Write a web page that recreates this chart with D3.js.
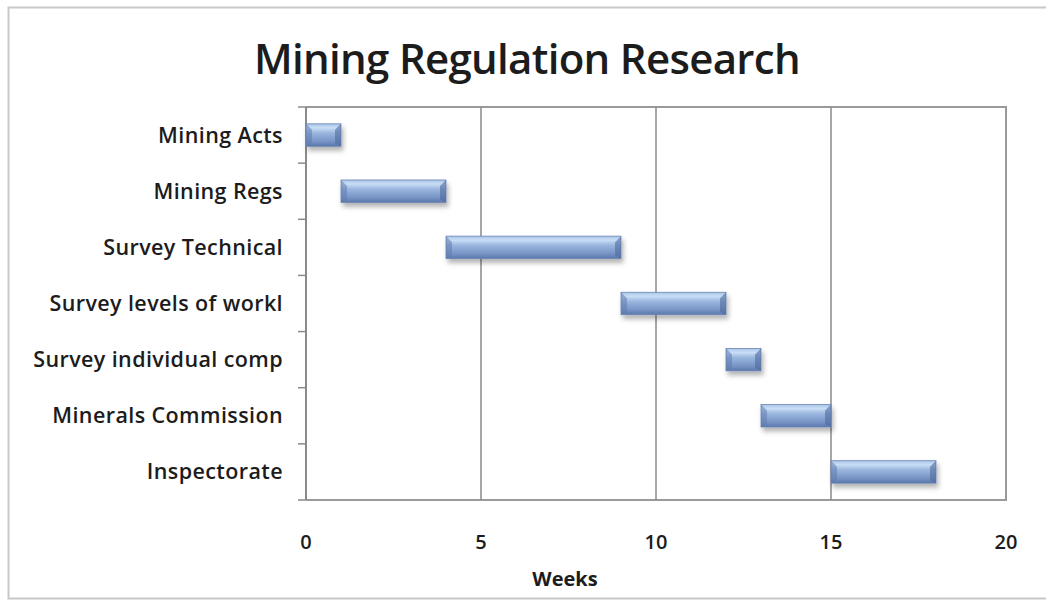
<!DOCTYPE html>
<html lang="en">
<head>
    <meta charset="UTF-8">
    <title>Mining Regulation Research</title>
    <script src="https://d3js.org/d3.v7.min.js"></script>
    <style>
        body{ margin:0; background:#fff; }
        svg text{ font-family: "Open Sans", Lato, sans-serif; fill:#1c1c1c; }
    </style>
</head>
<body>
<svg id="canvas" width="1046" height="601"></svg>
<script>
    // chart data
    const tasks = ["Mining Acts", "Mining Regs", "Survey Technical", "Survey levels of workl",
                   "Survey individual comp", "Minerals Commission", "Inspectorate"];
    const startWeek = [0, 1, 4, 9, 12, 13, 15];
    const duration  = [1, 3, 5, 3, 1, 2, 3];
    const xTicks = [0, 5, 10, 15, 20];

    const svg = d3.select("#canvas");

    // outer chart frame
    svg.append("rect")
        .attr("x", 8.5).attr("y", 7.5).attr("width", 1040).attr("height", 591)
        .attr("fill", "#fff").attr("stroke", "#c8c8c8").attr("stroke-width", 2);

    const plotL = 306, plotR = 1006, plotT = 107, plotB = 500;

    const x = d3.scaleLinear().domain([0, 20]).range([plotL, plotR]);
    const y = d3.scaleBand().domain(tasks).range([plotT, plotB]).paddingInner(0.6).paddingOuter(0.3);

    // gradients / shadow for the bevelled bars
    const defs = svg.append("defs");
    const vg = defs.append("linearGradient").attr("id", "barV")
        .attr("x1", 0).attr("y1", 0).attr("x2", 0).attr("y2", 1);
    vg.append("stop").attr("offset", "0%").attr("stop-color", "#a9c4e6");
    vg.append("stop").attr("offset", "18%").attr("stop-color", "#c9def6");
    vg.append("stop").attr("offset", "40%").attr("stop-color", "#9bb6df");
    vg.append("stop").attr("offset", "80%").attr("stop-color", "#7592c4");
    vg.append("stop").attr("offset", "100%").attr("stop-color", "#5a76a8");

    const f = defs.append("filter").attr("id", "shadow")
        .attr("x", "-10%").attr("y", "-30%").attr("width", "130%").attr("height", "190%");
    f.append("feDropShadow").attr("dx", 2).attr("dy", 4).attr("stdDeviation", 2.5)
        .attr("flood-color", "#000").attr("flood-opacity", 0.3);

    // title
    svg.append("text")
        .attr("x", 527).attr("y", 74)
        .attr("text-anchor", "middle")
        .attr("font-size", 42).attr("font-weight", 600)
        .attr("letter-spacing", -0.7)
        .text("Mining Regulation Research");

    // plot border (top/right/bottom) + gridlines
    svg.append("path")
        .attr("d", `M${plotL},${plotT}H${plotR}V${plotB}H${plotL}`)
        .attr("fill", "none").attr("stroke", "#9a9a9a").attr("stroke-width", 2);

    svg.append("g").selectAll("line")
        .data(xTicks.filter(d => d > 0 && d < 20))
        .join("line")
        .attr("x1", d => x(d)).attr("x2", d => x(d))
        .attr("y1", plotT).attr("y2", plotB)
        .attr("stroke", "#8a8a8a").attr("stroke-width", 1.5);

    // y axis with ticks between categories
    svg.append("line")
        .attr("x1", plotL).attr("x2", plotL).attr("y1", plotT).attr("y2", plotB)
        .attr("stroke", "#8a8a8a").attr("stroke-width", 2);
    const step = (plotB - plotT) / tasks.length;
    svg.append("g").selectAll("line")
        .data(d3.range(tasks.length + 1))
        .join("line")
        .attr("x1", plotL - 8).attr("x2", plotL)
        .attr("y1", i => plotT + i * step).attr("y2", i => plotT + i * step)
        .attr("stroke", "#8a8a8a").attr("stroke-width", 1.5);

    // category labels
    svg.append("g").selectAll("text")
        .data(tasks)
        .join("text")
        .attr("x", 283)
        .attr("y", d => y(d) + y.bandwidth() / 2)
        .attr("dy", "0.35em")
        .attr("text-anchor", "end")
        .attr("font-size", 21.5).attr("font-weight", 600)
        .attr("letter-spacing", 0.4)
        .text(d => d);

    // x tick labels
    svg.append("g").selectAll("text")
        .data(xTicks)
        .join("text")
        .attr("x", d => x(d)).attr("y", 549)
        .attr("text-anchor", "middle")
        .attr("font-size", 20).attr("font-weight", 600)
        .text(d => d);

    svg.append("text")
        .attr("x", 565).attr("y", 586)
        .attr("text-anchor", "middle")
        .attr("font-size", 20).attr("font-weight", "bold")
        .text("Weeks");

    // bars
    const bars = svg.append("g").selectAll("g")
        .data(tasks.map((t, i) => ({task: t, start: startWeek[i], dur: duration[i]})))
        .join("g");

    bars.append("rect")
        .attr("x", d => x(d.start))
        .attr("y", d => y(d.task))
        .attr("width", d => x(d.start + d.dur) - x(d.start))
        .attr("height", y.bandwidth())
        .attr("fill", "url(#barV)")
        .attr("stroke", "#6b86b6").attr("stroke-width", 0.8)
        .attr("filter", "url(#shadow)");

    // darker bevelled ends
    const bev = 6;
    bars.append("path")
        .attr("d", d => {
            const x0 = x(d.start), y0 = y(d.task), h = y.bandwidth();
            return `M${x0},${y0}L${x0 + bev},${y0 + bev}V${y0 + h - 3}L${x0},${y0 + h}Z`;
        })
        .attr("fill", "#5f7cae").attr("opacity", 0.55);
    bars.append("path")
        .attr("d", d => {
            const x1 = x(d.start + d.dur), y0 = y(d.task), h = y.bandwidth();
            return `M${x1},${y0}L${x1 - bev},${y0 + bev}V${y0 + h - 3}L${x1},${y0 + h}Z`;
        })
        .attr("fill", "#4f6b9c").attr("opacity", 0.6);
</script>
</body>
</html>
